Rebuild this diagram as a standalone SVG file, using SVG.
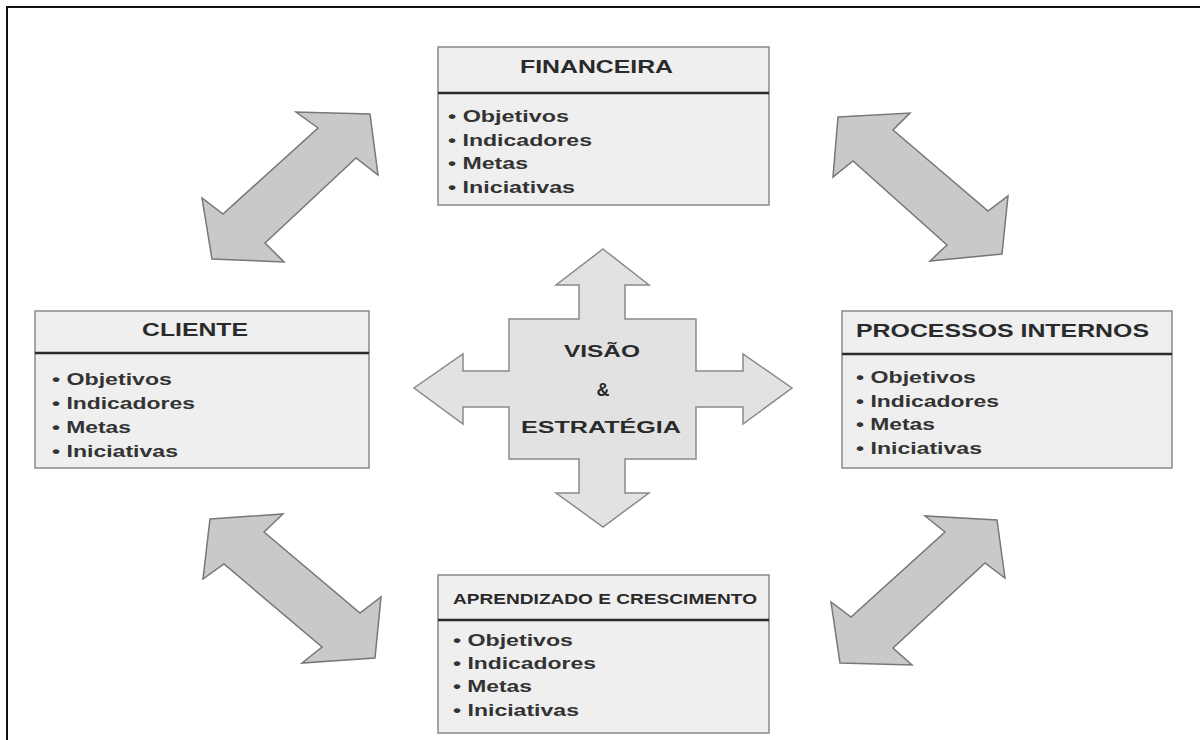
<svg xmlns="http://www.w3.org/2000/svg" width="1200" height="740" viewBox="0 0 1200 740">
  <style>
    .frame { fill: none; stroke: #111; stroke-width: 2; }
    .box { fill: #efefef; stroke: #8a8a8a; stroke-width: 1.5; }
    .divider { stroke: #2b2b2b; stroke-width: 2.5; }
    .title { font-family: "Liberation Sans", Arial, sans-serif; font-weight: bold; font-size: 18px; fill: #2a2a2a; }
    .title-sm { font-family: "Liberation Sans", Arial, sans-serif; font-weight: bold; font-size: 15px; fill: #2a2a2a; }
    .item { font-family: "Liberation Sans", Arial, sans-serif; font-weight: bold; font-size: 17px; fill: #333; }
    .core { fill: #e2e2e2; stroke: #8a8a8a; stroke-width: 1.5; stroke-linejoin: miter; }
    .core-text { font-family: "Liberation Sans", Arial, sans-serif; font-weight: bold; font-size: 16px; fill: #2a2a2a; }
    .amp { font-family: "Liberation Sans", Arial, sans-serif; font-weight: bold; font-size: 18px; fill: #2a2a2a; }
    .link { fill: #c9c9c9; stroke: #777; stroke-width: 1.5; stroke-linejoin: miter; }
  </style>

  <!-- page frame -->
  <path class="frame" d="M7,740 V7 H1200"/>

  <!-- double arrows linking the perspectives -->
  <g id="connectors">
    <polygon class="link" points="370,114 378,175 356,158 265,243 284,262 212,259 202,198 223,214 318,128 296,112"/>
    <polygon class="link" points="838,117 910,113 893,130 988,211 1008,196 1002,254 930,261 947,245 853,161 833,177"/>
    <polygon class="link" points="210,519 283,514 264,532 360,613 381,597 375,658 302,663 322,647 224,564 203,579"/>
    <polygon class="link" points="997,520 1005,578 985,563 893,648 912,665 840,663 831,602 851,617 945,532 925,516"/>
  </g>

  <!-- central cross -->
  <g id="visao-estrategia">
    <polygon class="core" points="603,249 649,285 625,285 625,319 696,319 696,371 743,371 743,354 792,388 743,424 743,407 696,407 696,459 625,459 625,493 649,493 603,527 556,493 579,493 579,459 509,459 509,407 463,407 463,424 414,388 463,354 463,371 509,371 509,319 579,319 579,285 556,285"/>
    <text class="core-text" x="564" y="357" textLength="76" lengthAdjust="spacingAndGlyphs">VISÃO</text>
    <text class="amp" x="603" y="396" text-anchor="middle">&amp;</text>
    <text class="core-text" x="521" y="433" textLength="160" lengthAdjust="spacingAndGlyphs">ESTRATÉGIA</text>
  </g>

  <!-- FINANCEIRA -->
  <g id="financeira">
    <rect class="box" x="438" y="47" width="331" height="158"/>
    <line class="divider" x1="438" y1="93" x2="769" y2="93"/>
    <text class="title" x="520" y="73" textLength="153" lengthAdjust="spacingAndGlyphs">FINANCEIRA</text>
    <text class="item" x="448" y="122" textLength="121" lengthAdjust="spacingAndGlyphs">• Objetivos</text>
    <text class="item" x="448" y="146" textLength="144" lengthAdjust="spacingAndGlyphs">• Indicadores</text>
    <text class="item" x="448" y="169" textLength="80" lengthAdjust="spacingAndGlyphs">• Metas</text>
    <text class="item" x="448" y="193" textLength="127" lengthAdjust="spacingAndGlyphs">• Iniciativas</text>
  </g>

  <!-- CLIENTE -->
  <g id="cliente">
    <rect class="box" x="35" y="311" width="334" height="157"/>
    <line class="divider" x1="35" y1="353" x2="369" y2="353"/>
    <text class="title" x="142" y="336" textLength="106" lengthAdjust="spacingAndGlyphs">CLIENTE</text>
    <text class="item" x="52" y="385" textLength="120" lengthAdjust="spacingAndGlyphs">• Objetivos</text>
    <text class="item" x="52" y="409" textLength="143" lengthAdjust="spacingAndGlyphs">• Indicadores</text>
    <text class="item" x="52" y="433" textLength="79" lengthAdjust="spacingAndGlyphs">• Metas</text>
    <text class="item" x="52" y="457" textLength="126" lengthAdjust="spacingAndGlyphs">• Iniciativas</text>
  </g>

  <!-- PROCESSOS INTERNOS -->
  <g id="processos-internos">
    <rect class="box" x="842" y="311" width="330" height="157"/>
    <line class="divider" x1="842" y1="354" x2="1172" y2="354"/>
    <text class="title" x="856" y="337" textLength="293" lengthAdjust="spacingAndGlyphs">PROCESSOS INTERNOS</text>
    <text class="item" x="856" y="383" textLength="120" lengthAdjust="spacingAndGlyphs">• Objetivos</text>
    <text class="item" x="856" y="407" textLength="143" lengthAdjust="spacingAndGlyphs">• Indicadores</text>
    <text class="item" x="856" y="430" textLength="79" lengthAdjust="spacingAndGlyphs">• Metas</text>
    <text class="item" x="856" y="454" textLength="126" lengthAdjust="spacingAndGlyphs">• Iniciativas</text>
  </g>

  <!-- APRENDIZADO E CRESCIMENTO -->
  <g id="aprendizado-crescimento">
    <rect class="box" x="438" y="575" width="331" height="158"/>
    <line class="divider" x1="438" y1="620" x2="769" y2="620"/>
    <text class="title-sm" x="453" y="604" textLength="304" lengthAdjust="spacingAndGlyphs">APRENDIZADO E CRESCIMENTO</text>
    <text class="item" x="453" y="646" textLength="120" lengthAdjust="spacingAndGlyphs">• Objetivos</text>
    <text class="item" x="453" y="669" textLength="143" lengthAdjust="spacingAndGlyphs">• Indicadores</text>
    <text class="item" x="453" y="692" textLength="79" lengthAdjust="spacingAndGlyphs">• Metas</text>
    <text class="item" x="453" y="716" textLength="126" lengthAdjust="spacingAndGlyphs">• Iniciativas</text>
  </g>
</svg>
